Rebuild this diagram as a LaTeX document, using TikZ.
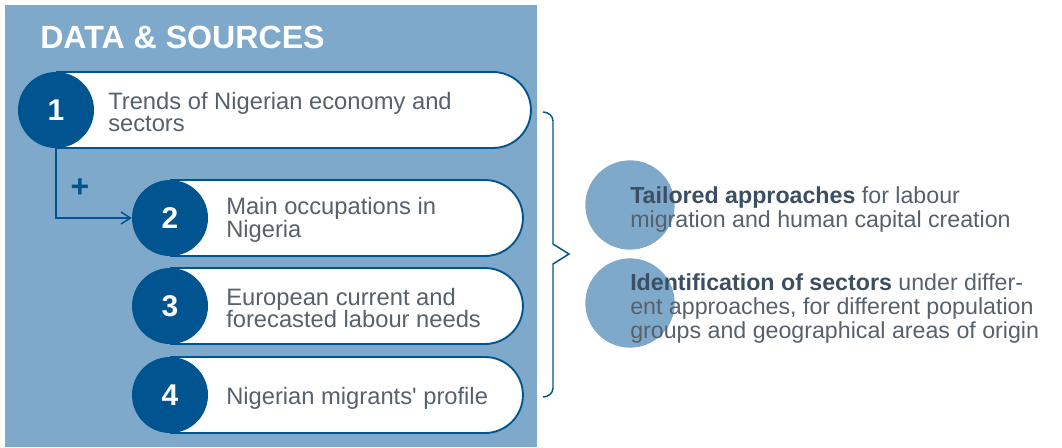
\documentclass[tikz,border=0pt]{standalone}
\usepackage{fontspec}
\setmainfont{Liberation Sans}
\usetikzlibrary{arrows.meta,shapes.misc}
\definecolor{panel}{HTML}{7FA9CB}
\definecolor{navy}{HTML}{00548F}
\definecolor{txt}{HTML}{56616B}
\definecolor{txtb}{HTML}{3C4E62}
\begin{document}
\begin{tikzpicture}[x=0.75pt,y=-0.75pt,
  num/.style={circle,fill=navy,minimum size=57pt,inner sep=0pt,text=white,
    font=\fontsize{22.5}{22.5}\selectfont\bfseries},
  pill/.style={rounded rectangle,rounded rectangle left arc=none,draw=navy,
    line width=1.4pt,fill=white,minimum height=57pt,anchor=west,inner sep=0pt},
  ptext/.style={anchor=west,align=left,inner sep=0pt,text=txt,
    font=\fontsize{17.8}{17}\selectfont},
  rtext/.style={anchor=west,align=left,inner sep=0pt,text=txt,
    font=\fontsize{17.4}{18}\selectfont},
  bubble/.style={circle,fill=panel,minimum size=67pt,inner sep=0pt},
  conn/.style={draw=navy,line width=1.1pt,-{Straight Barb[length=7pt,width=9pt,line width=1.1pt]}},
  bracestyle/.style={draw=navy,line width=1.1pt,line join=miter}
]
\useasboundingbox (0,0) rectangle (1062,447);
% panel
\fill[panel] (5,5) rectangle (537,447);
\node[anchor=base west,inner sep=0pt,text=white,font=\fontsize{24.1}{24.1}\selectfont\bfseries] (title) at (40,48) {DATA \& SOURCES};
% pill 1
\node[pill,minimum width=355.5pt] (p1) at (56,110) {};
\node[num] (c1) at (56,110) {1};
\node[ptext] (t1) at (108,112) {Trends of Nigerian economy and\\sectors};
% pills 2-4
\node[pill,minimum width=264pt] (p2) at (170,218) {};
\node[pill,minimum width=264pt] (p3) at (170,306) {};
\node[pill,minimum width=264pt] (p4) at (170,395) {};
\node[num] (c2) at (170,218) {2};
\node[num] (c3) at (170,306) {3};
\node[num] (c4) at (170,395) {4};
\node[ptext] (t2) at (226,220) {Main occupations in\\Nigeria};
\node[ptext] (t3) at (226,308) {European current and\\forecasted labour needs};
\node[ptext] (t4) at (226,398) {Nigerian migrants\textquotesingle{} profile};
% connector
\draw[conn] (c1.south) |- (c2.west);
\node[text=navy,inner sep=0pt,font=\fontsize{24}{24}\selectfont\bfseries] (plus) at (80,188) {+};
% brace
\coordinate (bt) at (543,112);
\coordinate (bb) at (543,397);
\coordinate (tip) at (569,254);
\draw[bracestyle] (bt) to[out=0,in=90] (553,121) -- (553,244) -- (tip) -- (553,264) -- (553,388) to[out=-90,in=0] (bb);
% right bubbles
\node[bubble] (b1) at (630,205) {};
\node[bubble] (b2) at (630,303) {};
\node[rtext] (r1) at (630,209) {\textbf{\color{txtb}Tailored approaches} for labour\\migration and human capital creation};
\node[rtext] (r2) at (630,308) {\textbf{\color{txtb}Identification of sectors} under differ-\\ent approaches, for different population\\groups and geographical areas of origin};
\end{tikzpicture}
\end{document}
